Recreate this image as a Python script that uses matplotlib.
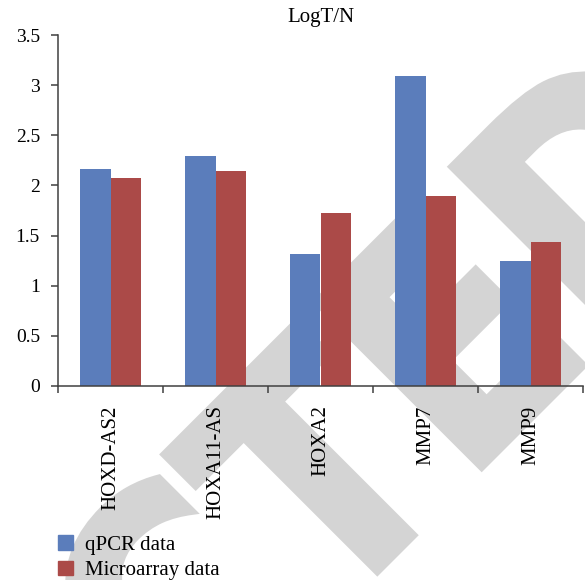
import matplotlib
matplotlib.use("Agg")
import matplotlib.pyplot as plt
import matplotlib.transforms as mtransforms
from matplotlib.textpath import TextPath
from matplotlib.patches import PathPatch, Patch
from matplotlib.font_manager import FontProperties
import numpy as np

# data
genes = ["HOXD-AS2", "HOXA11-AS", "HOXA2", "MMP7", "MMP9"]
qpcr = [2.16, 2.29, 1.32, 3.09, 1.25]
microarray = [2.07, 2.14, 1.73, 1.89, 1.44]
series_names = ["qPCR data", "Microarray data"]
yticks = [0, 0.5, 1, 1.5, 2, 2.5, 3, 3.5]
ytick_labels = ["0", "0.5", "1", "1.5", "2", "2.5", "3", "3.5"]

blue = "#5b7dbb"
red = "#ab4a48"
axis_col = "#404040"
wm_col = "#d4d4d4"

plt.rcParams["font.family"] = ["Liberation Serif", "DejaVu Serif"]

W, H = 585, 580
fig = plt.figure(figsize=(W / 100, H / 100), dpi=100)
fig.patch.set_facecolor("white")

# grey "RETRACTED" watermark behind the chart (pixel coords)
wm_prop = FontProperties(family="DejaVu Sans", weight="bold")
wm_size = 322
wm_full = TextPath((0, 0), "RETRACTED", size=wm_size, prop=wm_prop)
wm_pre = TextPath((0, 0), "RETRACT", size=wm_size, prop=wm_prop)
wm_t = TextPath((0, 0), "T", size=wm_size, prop=wm_prop)
t_cx = wm_pre.get_extents().x1 - wm_t.get_extents().width / 2
wm_tr = (mtransforms.Affine2D()
         .translate(-t_cx, 3)
         .scale(0.87, 1.0)
         .rotate_deg(45)
         .translate(398, H - 556))
wm = PathPatch(wm_full, transform=wm_tr, facecolor=wm_col,
               edgecolor=wm_col, linewidth=4.3, zorder=-5)
fig.add_artist(wm)

ax = fig.add_axes([58 / W, 1 - 386 / H, (583 - 58) / W, (386 - 35) / H])
ax.patch.set_visible(False)

x = np.arange(len(genes))
bw = 0.29
ax.bar(x - bw / 2, qpcr, bw, color=blue, zorder=2)
ax.bar(x + bw / 2, microarray, bw, color=red, zorder=2)

ax.set_xlim(-0.5, len(genes) - 0.5)
ax.set_ylim(0, 3.5)

for s in ["top", "right"]:
    ax.spines[s].set_visible(False)
for s in ["left", "bottom"]:
    ax.spines[s].set_color(axis_col)
    ax.spines[s].set_linewidth(1.1)

ax.set_yticks(yticks)
ax.set_yticklabels(ytick_labels, fontsize=14)
ax.tick_params(axis="y", direction="out", length=5, width=1.1,
               color=axis_col, pad=8)

# category boundaries carry the tick marks, names sit in between
ax.set_xticks(np.arange(len(genes) + 1) - 0.5)
ax.set_xticklabels([])
ax.set_xticks(x, minor=True)
ax.set_xticklabels(genes, minor=True, rotation=90, fontsize=15, va="top")
ax.tick_params(axis="x", which="major", direction="out", length=5,
               width=1.1, color=axis_col)
ax.tick_params(axis="x", which="minor", length=0, pad=14)

ax.set_title("LogT/N", fontsize=15, pad=9.5)

handles = [Patch(color=blue, label=series_names[0]),
           Patch(color=red, label=series_names[1])]
fig.legend(handles=handles, loc="upper left",
           bbox_to_anchor=(58 / W, 1 - 535 / H), frameon=False,
           fontsize=15, handlelength=0.7, handleheight=0.7,
           handletextpad=0.6, labelspacing=0.3, borderpad=0,
           borderaxespad=0)

fig.savefig("out.png", dpi=100, facecolor="white")
